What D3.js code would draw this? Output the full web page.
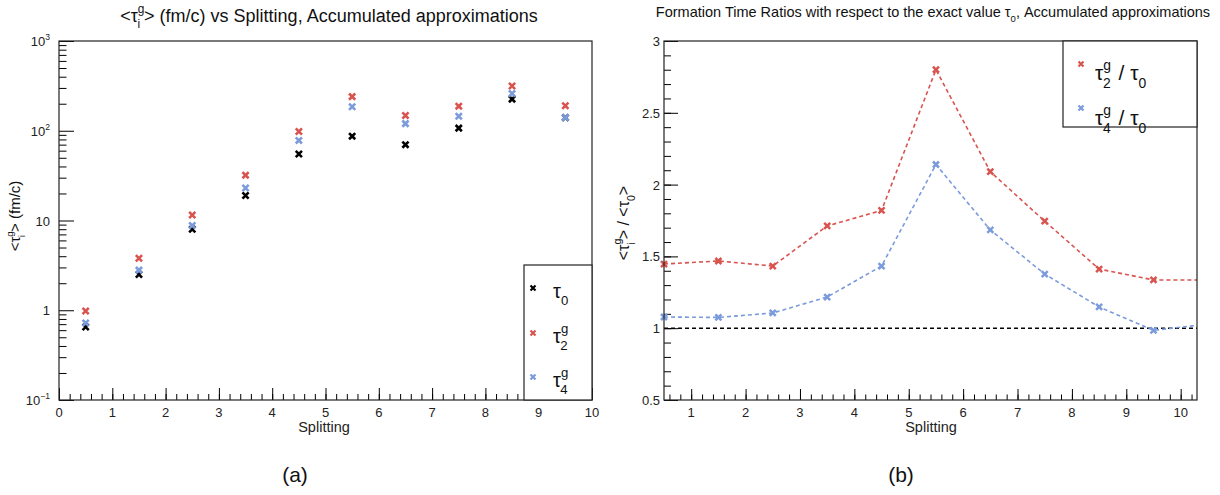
<!DOCTYPE html>
<html>
<head>
<meta charset="utf-8">
<script src="https://cdn.jsdelivr.net/npm/d3@7"></script>
<style>
  body { margin: 0; background: #fff; }
  svg { display: block; font-family: "Liberation Sans", Arial, Helvetica, sans-serif; }
</style>
</head>
<body>
<svg id="chart" width="1220" height="495"></svg>
<script>
// datos
const splitting = [0.5, 1.5, 2.5, 3.5, 4.5, 5.5, 6.5, 7.5, 8.5, 9.5]
const tau0 = [0.65, 2.5, 8.0, 19, 55, 87, 70, 107, 225, 140]
const tau2 = [0.98, 3.8, 11.5, 32, 98, 240, 148, 188, 315, 190]
const tau4 = [0.72, 2.8, 8.8, 23, 78, 185, 120, 145, 260, 140]

const ratio2 = [1.447, 1.468, 1.433, 1.712, 1.82, 2.80, 2.09, 1.745, 1.412, 1.336]
const ratio4 = [1.078, 1.075, 1.106, 1.217, 1.433, 2.14, 1.684, 1.377, 1.148, 0.985]
// la linea sigue hasta el borde derecho del marco
const edgeX = 10.3
const ratio2Edge = 1.336
const ratio4Edge = 1.02

const xTicksA = d3.range(0, 11)
const xTicksB = d3.range(1, 11)
const yTicksA = [0.1, 1, 10, 100, 1000]
const yLabelsA = [["10", "\u22121"], ["1", ""], ["10", ""], ["10", "2"], ["10", "3"]]
const yTicksB = [0.5, 1, 1.5, 2, 2.5, 3]

const RED = "#d9534f"
const BLUE = "#7b9bdc"
const BLACK = "#000"

const svg = d3.select("#chart")

// texto con sub/superindices: segs = [[texto, tipo, dx]]
function rich(sel, segs, fs) {
  let cur = 0
  segs.forEach(([t, kind, dx]) => {
    const target = kind === "sup" ? -0.48 * fs : kind === "sub" ? 0.36 * fs : 0
    const ts = sel.append("tspan")
      .attr("dy", target - cur)
      .attr("font-size", kind === "n" ? fs : fs * 0.66)
      .text(t)
    if (dx) ts.attr("dx", dx)
    cur = target
  })
}

function crossMark(g, cx, cy, r, color, w) {
  g.append("path")
    .attr("d", `M${cx - r},${cy - r}L${cx + r},${cy + r}M${cx - r},${cy + r}L${cx + r},${cy - r}`)
    .attr("stroke", color)
    .attr("stroke-width", w)
    .attr("fill", "none")
}

function styleAxis(g) {
  g.select(".domain").remove()
  g.selectAll("line").attr("stroke", "#000").attr("stroke-width", 1)
}

// ---------- Panel (a) ----------
{
  const L = 59, R = 592, T = 41, B = 400
  const x = d3.scaleLinear().domain([0, 10]).range([L, R])
  const y = d3.scaleLog().domain([0.1, 1000]).range([B, T])
  const g = svg.append("g")

  const minorY = []
  ;[0.1, 1, 10, 100].forEach(d => { for (let k = 2; k <= 9; k++) minorY.push(d * k) })

  g.append("g").attr("transform", `translate(${L},0)`)
    .call(d3.axisLeft(y).tickValues(yTicksA).tickSize(-15).tickFormat(""))
    .call(styleAxis)
  g.append("g").attr("transform", `translate(${L},0)`)
    .call(d3.axisLeft(y).tickValues(minorY).tickSize(-7.5).tickFormat(""))
    .call(styleAxis)
  g.append("g").attr("transform", `translate(0,${B})`)
    .call(d3.axisBottom(x).tickValues(xTicksA).tickSize(-12).tickFormat(""))
    .call(styleAxis)
  g.append("g").attr("transform", `translate(0,${B})`)
    .call(d3.axisBottom(x).tickValues(d3.range(0, 10.01, 0.2)).tickSize(-6).tickFormat(""))
    .call(styleAxis)

  // etiquetas de ticks
  yTicksA.forEach((v, i) => {
    const [base, exp] = yLabelsA[i]
    const t = g.append("text").attr("x", L - 9).attr("y", y(v) + 5)
      .attr("text-anchor", "end").attr("fill", "#222")
    rich(t, exp ? [[base, "n"], [exp, "sup"]] : [[base, "n"]], 13)
  })
  g.selectAll(".xl").data(xTicksA).join("text")
    .attr("x", d => x(d)).attr("y", B + 17)
    .attr("text-anchor", "middle").attr("font-size", 13).attr("fill", "#222")
    .text(d => d)

  // puntos
  const series = [[tau0, BLACK], [tau2, RED], [tau4, BLUE]]
  series.forEach(([vals, col]) => {
    vals.forEach((v, i) => crossMark(g, x(splitting[i]), y(v), 3.1, col, 2.6))
  })

  g.append("rect").attr("x", L).attr("y", T).attr("width", R - L).attr("height", B - T)
    .attr("fill", "none").attr("stroke", "#222").attr("stroke-width", 1.2)

  // leyenda
  const lg = g.append("g")
  lg.append("rect").attr("x", 524).attr("y", 265).attr("width", R - 524).attr("height", B - 265)
    .attr("fill", "#fff").attr("stroke", "#222").attr("stroke-width", 1.2)
  const legA = [[BLACK, [["\u03c4", "n"], ["0", "sub"]], 288, 298],
                [RED, [["\u03c4", "n"], ["g", "sup"], ["2", "sub", -8]], 333, 343],
                [BLUE, [["\u03c4", "n"], ["g", "sup"], ["4", "sub", -8]], 377, 387]]
  legA.forEach(([col, segs, yy, base]) => {
    crossMark(lg, 533, yy, 2.5, col, 2.2)
    const t = lg.append("text").attr("x", 553).attr("y", base).attr("fill", "#111")
    rich(t, segs, 20)
  })

  // titulos
  const tt = g.append("text").attr("x", 329).attr("y", 22).attr("text-anchor", "middle").attr("fill", "#111")
  rich(tt, [["<\u03c4", "n"], ["g", "sup"], ["i", "sub", -7], ["> (fm/c) vs Splitting, Accumulated approximations", "n", 4]], 18)

  g.append("text").attr("x", 324).attr("y", 432).attr("text-anchor", "middle")
    .attr("font-size", 14.5).attr("fill", "#222").text("Splitting")

  const yl = g.append("text").attr("transform", `translate(20,216) rotate(-90)`)
    .attr("text-anchor", "middle").attr("fill", "#111")
  rich(yl, [["<\u03c4", "n"], ["g", "sup"], ["i", "sub", -6], ["> (fm/c)", "n", 3]], 15)

  g.append("text").attr("x", 295).attr("y", 482).attr("text-anchor", "middle")
    .attr("font-size", 21).attr("fill", "#111").text("(a)")
}

// ---------- Panel (b) ----------
{
  const L = 664, R = 1197, T = 41, B = 400
  const x = d3.scaleLinear().domain([0.5, edgeX]).range([L, R])
  const y = d3.scaleLinear().domain([0.5, 3]).range([B, T])
  const g = svg.append("g")

  g.append("g").attr("transform", `translate(${L},0)`)
    .call(d3.axisLeft(y).tickValues(yTicksB).tickSize(-14).tickFormat(""))
    .call(styleAxis)
  g.append("g").attr("transform", `translate(${L},0)`)
    .call(d3.axisLeft(y).tickValues(d3.range(0.6, 3, 0.1)).tickSize(-7).tickFormat(""))
    .call(styleAxis)
  g.append("g").attr("transform", `translate(0,${B})`)
    .call(d3.axisBottom(x).tickValues(xTicksB).tickSize(-11).tickFormat(""))
    .call(styleAxis)
  g.append("g").attr("transform", `translate(0,${B})`)
    .call(d3.axisBottom(x).tickValues(d3.range(0.6, 10.3, 0.2)).tickSize(-5.5).tickFormat(""))
    .call(styleAxis)

  g.selectAll(".yl").data(yTicksB).join("text")
    .attr("x", L - 4).attr("y", d => y(d) + 5)
    .attr("text-anchor", "end").attr("font-size", 13).attr("fill", "#222")
    .text(d => d)
  g.selectAll(".xl").data(xTicksB).join("text")
    .attr("x", d => x(d)).attr("y", B + 17)
    .attr("text-anchor", "middle").attr("font-size", 13).attr("fill", "#222")
    .text(d => d)

  // linea de referencia en 1
  g.append("line").attr("x1", L).attr("x2", R).attr("y1", y(1)).attr("y2", y(1))
    .attr("stroke", "#000").attr("stroke-width", 1.6).attr("stroke-dasharray", "4,3")

  const line = d3.line().x(d => x(d[0])).y(d => y(d[1]))
  const series = [[ratio2, ratio2Edge, RED], [ratio4, ratio4Edge, BLUE]]
  series.forEach(([vals, edge, col]) => {
    const pts = splitting.map((s, i) => [s, vals[i]]).concat([[edgeX, edge]])
    g.append("path").attr("d", line(pts)).attr("fill", "none")
      .attr("stroke", col).attr("stroke-width", 1.6).attr("stroke-dasharray", "4,3")
    vals.forEach((v, i) => crossMark(g, x(splitting[i]), y(v), 3, col, 2.5))
  })

  g.append("rect").attr("x", L).attr("y", T).attr("width", R - L).attr("height", B - T)
    .attr("fill", "none").attr("stroke", "#222").attr("stroke-width", 1.2)

  // leyenda
  const lg = g.append("g")
  lg.append("rect").attr("x", 1063).attr("y", T).attr("width", R - 1063).attr("height", 86)
    .attr("fill", "#fff").attr("stroke", "#222").attr("stroke-width", 1.2)
  const legB = [[RED, "2", 64, 80], [BLUE, "4", 108, 125]]
  legB.forEach(([col, sub, yy, base]) => {
    crossMark(lg, 1081, yy, 2.5, col, 2.2)
    const t = lg.append("text").attr("x", 1095).attr("y", base).attr("fill", "#111")
    rich(t, [["\u03c4", "n"], ["g", "sup"], [sub, "sub", -8], [" / \u03c4", "n", 2], ["0", "sub"]], 21)
  })

  // titulos
  const tt = g.append("text").attr("x", 933).attr("y", 17).attr("text-anchor", "middle").attr("fill", "#111")
  rich(tt, [["Formation Time Ratios with respect to the exact value \u03c4", "n"], ["0", "sub"], [", Accumulated approximations", "n"]], 14.5)

  g.append("text").attr("x", 931).attr("y", 432).attr("text-anchor", "middle")
    .attr("font-size", 14.5).attr("fill", "#222").text("Splitting")

  const yl = g.append("text").attr("transform", `translate(629,223) rotate(-90)`)
    .attr("text-anchor", "middle").attr("fill", "#111")
  rich(yl, [["<\u03c4", "n"], ["g", "sup"], ["i", "sub", -6], ["> / <\u03c4", "n", 3], ["0", "sub"], [">", "n"]], 16)

  g.append("text").attr("x", 901).attr("y", 482).attr("text-anchor", "middle")
    .attr("font-size", 21).attr("fill", "#111").text("(b)")
}
</script>
</body>
</html>
